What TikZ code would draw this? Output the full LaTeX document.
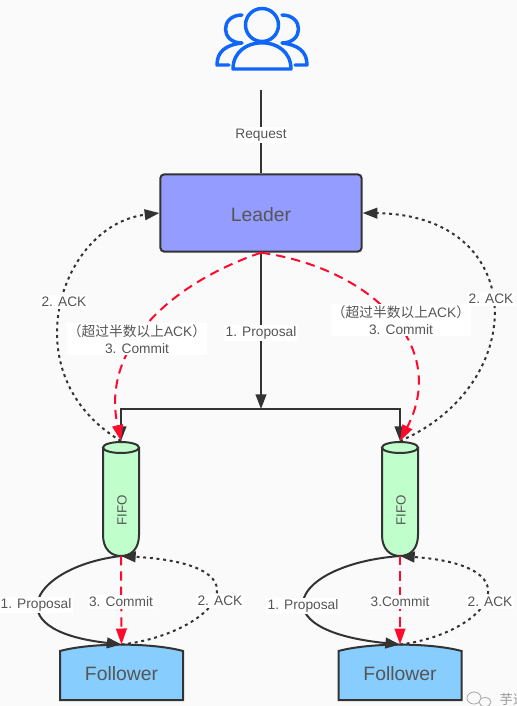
\documentclass[tikz,border=0pt]{standalone}
\usepackage{fontspec}
\setmainfont{Liberation Sans}
\newfontfamily\cjk{Noto Sans CJK SC}
\usepackage{xcolor}
\usetikzlibrary{arrows.meta,calc}
\definecolor{inkgray}{HTML}{333333}
\definecolor{textgray}{HTML}{555555}
\definecolor{pagegray}{HTML}{FAFAFA}
\definecolor{iconblue}{HTML}{0F66FA}
\definecolor{leaderblue}{HTML}{959CFF}
\definecolor{fifogreen}{HTML}{C0FFCC}
\definecolor{followerblue}{HTML}{87CEFF}
\definecolor{commitred}{HTML}{FF0A2C}
\tikzset{
    msg/.style={fill=white, text=textgray, inner xsep=1pt, inner ysep=1.5pt, align=center, yshift=-0.75pt,
        font=\fontsize{10.3}{12.75}\selectfont},
    box/.style={draw=inkgray, line width=1.5pt},
    flow/.style={inkgray, line width=1.5pt, -{Triangle[length=11pt,width=8pt]}},
    ack/.style={inkgray, line width=1.5pt, dash pattern=on 2.2pt off 2.8pt, -{Triangle[length=11pt,width=8pt]}},
    commit/.style={commitred, line width=1.5pt, dash pattern=on 7pt off 4.5pt, -{Triangle[length=12pt,width=8pt]}},
    bigname/.style={text=textgray, font=\fontsize{14.5}{16}\selectfont}
}
\begin{document}
\begin{tikzpicture}[x=0.75pt, y=-0.75pt]
    \clip (0,0) rectangle (517,706);
    \fill[pagegray] (0,0) rectangle (517,706);

    % Users icon
    \begin{scope}[iconblue, line width=2.6pt, line cap=round, line join=round]
        \draw (262,25) circle (16.5);
        \draw (233,69) .. controls (233,34) and (291,34) .. (291,69) -- cycle;
        \draw (242,15) .. controls (220,15) and (220,43) .. (242,43) .. controls (225,45) and (217,52) .. (217,65) -- (229,65);
        \draw (282,15) .. controls (304,15) and (304,43) .. (282,43) .. controls (299,45) and (307,52) .. (307,65) -- (295,65);
    \end{scope}

    % Leader
    \node[box, fill=leaderblue, rounded corners=3pt, minimum width=151pt, minimum height=58pt, text height=13pt, bigname] (leader) at (261,213) {Leader};
    \coordinate (client) at (261,90);
    \coordinate (fork) at (261,409);
    \draw[inkgray, line width=1.5pt] (client) -- (leader.north);
    \node[msg] (request) at (261,134) {Request};

    % FIFO queues
    \foreach \name/\x in {fifoL/121, fifoR/400} {
        \filldraw[box, fill=fifogreen] (\x-18,447.5) -- (\x-18,535) .. controls (\x-18,549) and (\x-10,556) .. (\x,556)
            .. controls (\x+10,556) and (\x+18,549) .. (\x+18,535) -- (\x+18,447.5);
        \filldraw[box, fill=fifogreen] (\x,447.5) ellipse (18 and 5.5);
        \node[rotate=90, text=textgray, font=\fontsize{10}{12}\selectfont] (\name) at (\x+1,510) {FIFO};
        \coordinate (\name-top) at (\x,441);
        \coordinate (\name-bot) at (\x,556);
    }

    % Followers
    \foreach \name/\x in {followL/121.5, followR/400} {
        \filldraw[box, fill=followerblue] (\x-61.5,651) .. controls (\x-30,642.5) and (\x+30,642.5) .. (\x+61.5,651)
            -- (\x+61.5,700) -- (\x-61.5,700) -- cycle;
        \node[bigname] (\name) at (\x,674) {Follower};
        \coordinate (\name-top) at (\x,644.5);
    }

    % Proposal
    \draw[flow] (leader.south) -- (fork);
    \draw[flow] (fork) -| (fifoL-top);
    \draw[flow] (fork) -| (fifoR-top);
    \draw[flow] (fifoL-bot) .. controls (35,566) and (-8,630) .. (followL-top);
    \draw[flow] (fifoR-bot) .. controls (294,564) and (255,630) .. (followR-top);

    % ACK
    \draw[ack] (fifoL-top) .. controls (10,375) and (60,225) .. (leader.west);
    \draw[ack] (fifoR-top) .. controls (530,385) and (530,215) .. (leader.east);
    \draw[ack] (followL-top) .. controls (208,635) and (278,565) .. (fifoL-bot);
    \draw[ack] (followR-top) .. controls (485,634) and (540,566) .. (fifoR-bot);

    % Commit
    \draw[commit] (leader.south) .. controls (175,282) and (100,345) .. (fifoL-top);
    \draw[commit] (leader.south) .. controls (370,268) and (450,345) .. (fifoR-top);
    \draw[commit] (fifoL-bot) -- (followL-top);
    \draw[commit] (fifoR-bot) -- (followR-top);

    % Labels
    \node[msg] (proposalC) at (261,332) {1. Proposal};
    \node[msg] (ackA) at (64,301) {2. ACK};
    \node[msg] (ackB) at (491,298) {2. ACK};
    \node[msg] (commitA) at (137,338) {{\cjk （超过半数以上}ACK{\cjk ）}\\3. Commit};
    \node[msg] (commitB) at (401,319) {{\cjk （超过半数以上}ACK{\cjk ）}\\3. Commit};
    \node[msg] (proposalA) at (36,604) {1. Proposal};
    \node[msg] (proposalB) at (303,605) {1. Proposal};
    \node[msg] (commitC) at (121,601) {3. Commit};
    \node[msg] (commitD) at (400,601) {3.Commit};
    \node[msg] (ackC) at (220,600) {2. ACK};
    \node[msg] (ackD) at (490,601) {2. ACK};

    % Watermark
    \node[anchor=west, text=gray!80, font=\fontsize{10}{12}\cjk] (mark) at (495,699) {芋道};
    \draw[gray!70, line width=0.6pt] (474,698) ellipse (7 and 6);
    \filldraw[draw=gray!70, fill=pagegray, line width=0.6pt] (485,702) ellipse (6 and 4.5);
\end{tikzpicture}
\end{document}
